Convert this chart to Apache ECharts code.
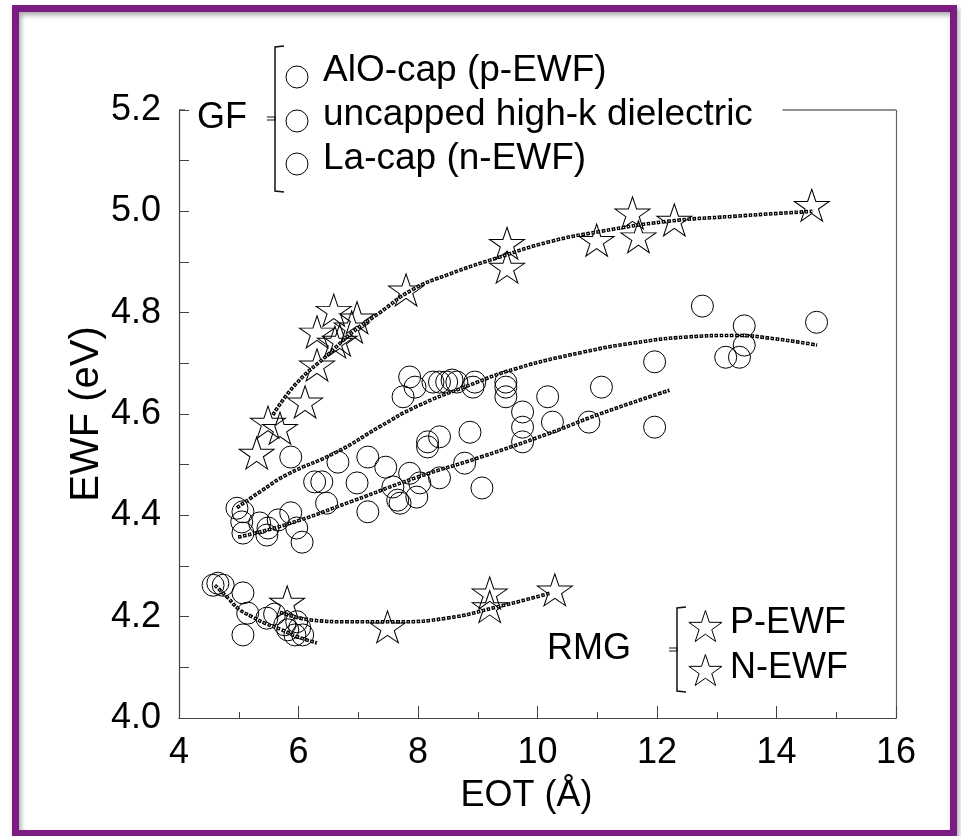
<!DOCTYPE html>
<html>
<head>
<meta charset="utf-8">
<script src="https://cdn.jsdelivr.net/npm/echarts@6/dist/echarts.min.js"></script>
<style>
  html, body { margin: 0; padding: 0; background: #fff; }
  #chart { width: 961px; height: 836px; }
</style>
</head>
<body>
<div id="chart"></div>
<script>
// GF, AlO-cap (p-EWF)
const aloX = [5.87, 6.66, 7.16, 7.46, 7.75, 7.86, 7.95, 8.16, 8.16, 8.25, 8.36, 8.36, 8.48, 8.57, 8.65, 8.87, 8.92, 8.95, 9.47, 9.47, 9.47, 10.17, 11.07, 11.96, 12.76, 13.15, 13.38, 13.46, 13.46, 14.67];
const aloY = [4.515, 4.505, 4.515, 4.495, 4.634, 4.673, 4.653, 4.545, 4.535, 4.663, 4.663, 4.555, 4.663, 4.667, 4.663, 4.564, 4.653, 4.663, 4.663, 4.653, 4.634, 4.634, 4.653, 4.703, 4.813, 4.712, 4.712, 4.774, 4.736, 4.781];
// GF, uncapped high-k
const uncX = [4.97, 5.05, 5.07, 5.07, 5.35, 5.47, 5.49, 5.66, 5.87, 5.97, 6.06, 6.27, 6.39, 6.47, 6.98, 7.16, 7.58, 7.66, 7.70, 7.86, 7.98, 8.03, 8.36, 8.78, 9.07, 9.75, 9.75, 9.75, 10.25, 10.86, 11.96];
const uncY = [4.414, 4.387, 4.407, 4.365, 4.385, 4.361, 4.375, 4.391, 4.405, 4.375, 4.347, 4.466, 4.466, 4.424, 4.464, 4.407, 4.456, 4.43, 4.424, 4.483, 4.436, 4.464, 4.474, 4.503, 4.454, 4.604, 4.574, 4.545, 4.584, 4.584, 4.574];
// GF, La-cap (n-EWF)
const laX = [4.57, 4.65, 4.74, 5.07, 5.15, 5.07, 5.47, 5.60, 5.77, 5.82, 5.94, 5.97, 6.02, 6.07];
const laY = [4.262, 4.266, 4.262, 4.247, 4.207, 4.164, 4.197, 4.205, 4.184, 4.174, 4.164, 4.19, 4.178, 4.164];
// RMG stars
const pX = [5.30, 5.49, 5.69, 6.11, 6.31, 6.31, 6.59, 6.61, 6.69, 6.89, 6.98, 7.80, 9.49, 9.49, 10.99, 11.59, 11.69, 12.29, 14.59];
const pY = [4.523, 4.584, 4.572, 4.624, 4.697, 4.762, 4.805, 4.742, 4.746, 4.772, 4.79, 4.845, 4.937, 4.89, 4.943, 4.997, 4.95, 4.983, 5.012];
const nX = [5.81, 7.49, 9.20, 9.20, 10.29];
const nY = [4.229, 4.18, 4.247, 4.22, 4.253];

// dotted trend lines
const pFitX = [5.57, 5.97, 6.52, 6.91, 7.36, 7.90, 8.50, 9.37, 10.2, 11.04, 12.16, 13.26, 14.6];
const pFitY = [4.598, 4.661, 4.72, 4.762, 4.80, 4.845, 4.875, 4.91, 4.94, 4.96, 4.98, 4.99, 5.0];
const aloFitX = [4.97, 5.4, 5.8, 6.64, 7.36, 7.98, 8.82, 9.65, 10.76, 11.6, 12.5, 13.3, 14.0, 14.68];
const aloFitY = [4.415, 4.45, 4.48, 4.525, 4.575, 4.615, 4.655, 4.69, 4.722, 4.74, 4.752, 4.755, 4.748, 4.736];
const uncFitX = [4.99, 5.8, 6.9, 7.98, 9.05, 10.2, 11.04, 12.21];
const uncFitY = [4.357, 4.382, 4.428, 4.475, 4.515, 4.562, 4.60, 4.647];
const laFitX = [4.6, 4.82, 5.0, 5.22, 5.44, 5.72, 5.99, 6.31];
const laFitY = [4.262, 4.237, 4.215, 4.2, 4.187, 4.174, 4.16, 4.148];
const nFitX = [5.69, 6.24, 6.81, 7.65, 8.48, 9.32, 10.2];
const nFitY = [4.209, 4.193, 4.19, 4.19, 4.197, 4.219, 4.246];

const xTicks = [4, 16, 2];
const yTicks = [4.0, 5.2, 0.2];

const FONT = '"Liberation Sans", Arial, sans-serif';
// star outline in a 97.55 x 90.45 box
const STAR_PTS = [[50, 0], [61.23, 34.55], [97.55, 34.55], [68.16, 55.9], [79.39, 90.45], [50, 69.1], [20.61, 90.45], [31.84, 55.9], [2.45, 34.55], [38.77, 34.55]];
const STAR = 'path://M' + STAR_PTS.map((p) => p.join(' ')).join('L') + 'Z';

const zip = (xs, ys) => xs.map((x, i) => [x, ys[i]]);

const scatter = (name, xs, ys, symbol, size) => ({
  type: 'scatter',
  name,
  data: zip(xs, ys),
  symbol,
  symbolSize: size,
  itemStyle: {
    color: 'rgba(0,0,0,0)',
    borderColor: '#000',
    borderWidth: 1,
    opacity: 1,
  },
  emphasis: { disabled: true },
  z: 2,
});

// chain of small hollow squares: black dashes with a white core
const fitLine = (xs, ys) => {
  const base = {
    type: 'line',
    data: zip(xs, ys),
    smooth: true,
    symbol: 'none',
    silent: true,
    emphasis: { disabled: true },
  };
  return [
    Object.assign({}, base, { lineStyle: { color: '#000', width: 3.6, type: [3.6, 1.5] }, z: 3 }),
    Object.assign({}, base, { lineStyle: { color: '#fff', width: 1.1, type: [1.1, 4.0], dashOffset: -1.25 }, z: 4 }),
  ];
};

const text = (str, x, y, size) => ({
  type: 'text',
  style: { text: str, x, y, fill: '#000', font: `${size || 36}px ${FONT}`, verticalAlign: 'middle' },
  z: 20,
});
const bracket = (x, top, bottom, nubY) => ([
  { type: 'polyline', shape: { points: [[x + 9, top], [x, top + 1], [x, bottom - 1], [x + 9, bottom]] }, style: { stroke: '#111', lineWidth: 1.5, fill: null }, z: 20 },
  { type: 'polyline', shape: { points: [[x - 8, nubY - 1], [x, nubY - 1], [x, nubY + 2], [x - 8, nubY + 2]] }, style: { stroke: '#111', lineWidth: 1.2, fill: null }, z: 20 },
]);
const star = (cx, cy, w, h) => ({
  type: 'polygon',
  shape: { points: STAR_PTS.map(([px, py]) => [cx - w / 2 + (px * w) / 97.55, cy - h / 2 + (py * h) / 90.45]) },
  style: { fill: null, stroke: '#000', lineWidth: 1 },
  z: 20,
});
const ring = (cx, cy) => ({
  type: 'circle', shape: { cx, cy, r: 11 }, style: { fill: null, stroke: '#000', lineWidth: 1 }, z: 20,
});

const axisColor = '#444';
const option = {
  animation: false,
  backgroundColor: '#fff',
  textStyle: { fontFamily: FONT, color: '#000' },
  grid: { left: 179, top: 110, width: 717, height: 608, containLabel: false },
  xAxis: {
    type: 'value',
    min: xTicks[0],
    max: xTicks[1],
    interval: xTicks[2],
    name: 'EOT (Å)',
    nameLocation: 'middle',
    nameGap: 60,
    nameMoveOverlap: false,
    nameTextStyle: { fontSize: 36, color: '#000', fontFamily: FONT, padding: [0, 22, 0, 0] },
    axisLine: { show: true, onZero: false, lineStyle: { color: axisColor, width: 1.2 } },
    axisTick: { show: true, inside: true, length: 12, lineStyle: { color: axisColor } },
    minorTick: { show: true, splitNumber: 2, length: 6, lineStyle: { color: axisColor } },
    axisLabel: { fontSize: 36, color: '#000', margin: 17, fontFamily: FONT },
    splitLine: { show: false },
  },
  yAxis: [{
    type: 'value',
    min: yTicks[0],
    max: yTicks[1],
    interval: yTicks[2],
    name: 'EWF (eV)',
    nameLocation: 'middle',
    nameGap: 72,
    nameMoveOverlap: false,
    nameTextStyle: { fontSize: 40, color: '#000', fontFamily: FONT },
    axisLine: { show: true, onZero: false, lineStyle: { color: axisColor, width: 1.2 } },
    axisTick: { show: true, inside: true, length: 10, lineStyle: { color: axisColor } },
    minorTick: { show: true, splitNumber: 2, length: 10, lineStyle: { color: axisColor } },
    axisLabel: { fontSize: 36, color: '#000', margin: 18, fontFamily: FONT, formatter: (v) => v.toFixed(1) },
    splitLine: { show: false },
  }, {
    type: 'value',
    position: 'right',
    min: yTicks[0],
    max: yTicks[1],
    interval: yTicks[2],
    axisLine: { show: true, onZero: false, lineStyle: { color: '#666', width: 1.2 } },
    axisTick: { show: false },
    axisLabel: { show: false },
    splitLine: { show: false },
  }],
  series: [
    scatter('AlO-cap (p-EWF)', aloX, aloY, 'circle', 22),
    scatter('uncapped high-k dielectric', uncX, uncY, 'circle', 22),
    scatter('La-cap (n-EWF)', laX, laY, 'circle', 22),
    scatter('P-EWF', pX, pY, STAR, [35, 32]),
    scatter('N-EWF', nX, nY, STAR, [35, 32]),
    ...fitLine(pFitX, pFitY),
    ...fitLine(aloFitX, aloFitY),
    ...fitLine(uncFitX, uncFitY),
    ...fitLine(laFitX, laFitY),
    ...fitLine(nFitX, nFitY),
  ],
};

const initChart = (id) => {
  const myChart = echarts.init(document.getElementById(id), null, { renderer: 'canvas' });
  window.addEventListener('resize', () => {
    myChart.resize();
  });
  return myChart;
};

const chart = initChart('chart');
chart.setOption(option);

// top border of the plot box only shows beside the GF legend
const topLeft = chart.convertToPixel({ gridIndex: 0 }, [xTicks[0], yTicks[1]]);
const topCut = chart.convertToPixel({ gridIndex: 0 }, [14.1, yTicks[1]]);
const topRight = chart.convertToPixel({ gridIndex: 0 }, [xTicks[1], yTicks[1]]);

chart.setOption({
  graphic: [
    {
      type: 'rect',
      shape: { x: 15.5, y: 8.5, width: 938, height: 825 },
      style: {
        fill: null, stroke: '#7b1d80', lineWidth: 7,
        shadowColor: 'rgba(0,0,0,0.35)', shadowBlur: 5, shadowOffsetX: 2, shadowOffsetY: 3,
      },
      z: 30,
    },
    { type: 'line', shape: { x1: topLeft[0], y1: topLeft[1], x2: topLeft[0] + 6, y2: topLeft[1] }, style: { stroke: axisColor, lineWidth: 1.2 }, z: 10 },
    { type: 'line', shape: { x1: topCut[0], y1: topCut[1], x2: topRight[0], y2: topRight[1] }, style: { stroke: '#222', lineWidth: 1.2 }, z: 10 },
    // GF legend
    text('GF', 197, 118),
    ...bracket(275, 46, 192, 118),
    ring(297, 77), text('AlO-cap (p-EWF)', 323, 71, 37),
    ring(297, 121), text('uncapped high-k dielectric', 323, 115, 37),
    ring(297, 164), text('La-cap (n-EWF)', 323, 159, 37),
    // RMG legend
    text('RMG', 547, 649),
    ...bracket(677, 607, 692, 649),
    star(705, 626, 34, 31), text('P-EWF', 730, 623),
    star(705, 670, 34, 31), text('N-EWF', 730, 668),
  ],
});
</script>
</body>
</html>
